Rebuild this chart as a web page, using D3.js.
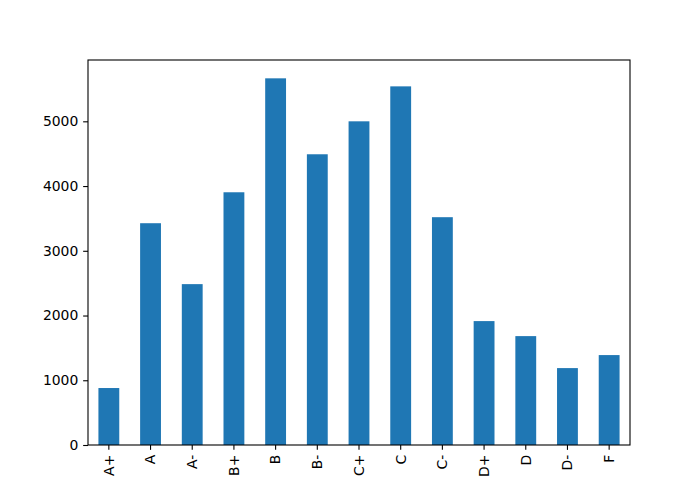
<!DOCTYPE html>
<html><head><meta charset="utf-8">
<script src="https://cdn.jsdelivr.net/npm/d3@7"></script>
<style>body{margin:0;background:#fff}svg{display:block}text{font-family:"DejaVu Sans",sans-serif}</style>
</head><body>
<svg id="c" width="700" height="500"></svg>
<script>
const categories = ["A+","A","A-","B+","B","B-","C+","C","C-","D+","D","D-","F"];
const counts = [880, 3426, 2485, 3904, 5664, 4491, 5000, 5540, 3519, 1914, 1682, 1188, 1389];
const yTicks = [0, 1000, 2000, 3000, 4000, 5000];

const svg = d3.select("#c");
const L = 88, R = 630, T = 60, B = 445;
const fs = "13.9px", tl = 4.86, tp = 4.86, lw = 1.1;
const x = d3.scaleBand().domain(categories).range([L, R]).paddingInner(0.5).paddingOuter(0.25);
const y = d3.scaleLinear().domain([0, d3.max(counts) * 1.05]).range([B, T]);

svg.append("g").selectAll("rect").data(categories).join("rect")
  .attr("x", d => x(d)).attr("width", x.bandwidth())
  .attr("y", (d, i) => y(counts[i])).attr("height", (d, i) => B - y(counts[i]))
  .attr("fill", "#1f77b4");

const xa = svg.append("g").attr("transform", `translate(0,${B})`)
  .call(d3.axisBottom(x).tickSize(tl).tickPadding(tp).tickSizeOuter(0));
xa.select(".domain").remove();
xa.selectAll("text").attr("transform", "rotate(-90)")
  .attr("text-anchor", "end").attr("x", -(tl + tp)).attr("y", 0).attr("dy", "0.35em")
  .style("font-size", fs).attr("fill", "#000");
xa.selectAll("line").attr("stroke", "#000").attr("stroke-width", lw);

const ya = svg.append("g").attr("transform", `translate(${L},0)`)
  .call(d3.axisLeft(y).tickValues(yTicks).tickFormat(d3.format("d")).tickSize(tl).tickPadding(tp));
ya.select(".domain").remove();
ya.selectAll("text").style("font-size", fs).attr("fill", "#000");
ya.selectAll("line").attr("stroke", "#000").attr("stroke-width", lw);

svg.append("rect").attr("x", L).attr("y", T).attr("width", R - L).attr("height", B - T)
  .attr("fill", "none").attr("stroke", "#000").attr("stroke-width", lw);
</script>
</body></html>
